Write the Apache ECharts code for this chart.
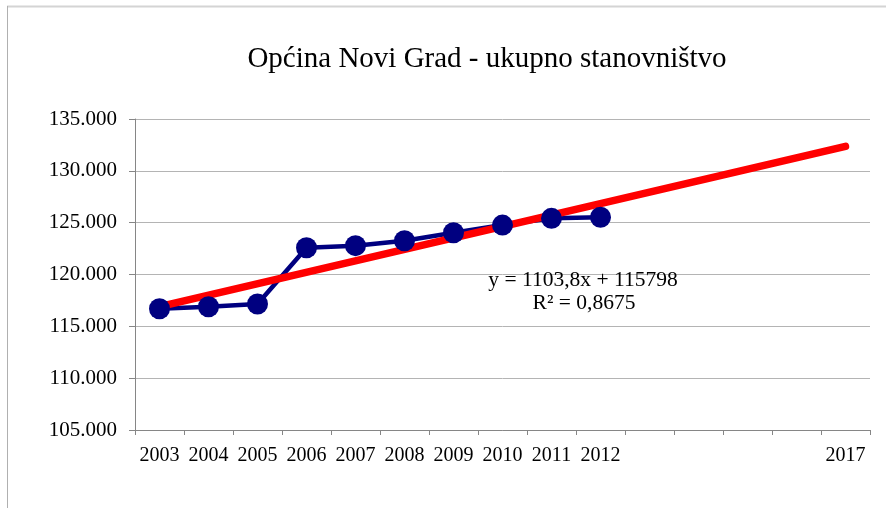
<!DOCTYPE html>
<html>
<head>
<meta charset="utf-8">
<script src="https://cdn.jsdelivr.net/npm/echarts@6/dist/echarts.min.js"></script>
<style>
  html, body { margin: 0; padding: 0; background: #fff; }
  #chart { width: 886px; height: 508px; }
</style>
</head>
<body>
<div id="chart"></div>
<script>
const years = ['2003', '2004', '2005', '2006', '2007', '2008', '2009', '2010', '2011', '2012', '2013', '2014', '2015', '2016', '2017']
const yearLabels = ['2003', '2004', '2005', '2006', '2007', '2008', '2009', '2010', '2011', '2012', '', '', '', '', '2017']
const population = [116700, 116890, 117150, 122580, 122780, 123260, 124030, 124770, 125420, 125520]
// linear trend, read at both ends of the line
const trend = [116902, null, null, null, null, null, null, null, null, null, null, null, null, null, 132355]

const serif = 'Liberation Serif'
const el = echarts.init(document.getElementById('chart'))
el.setOption({
  animation: false,
  backgroundColor: '#fff',
  grid: {left: 135, right: 16, top: 119, bottom: 78},
  xAxis: {
    type: 'category',
    data: years,
    boundaryGap: true,
    axisLine: {lineStyle: {color: '#868686', width: 1}},
    axisTick: {show: true, interval: 0, length: 5, lineStyle: {color: '#868686'}},
    axisLabel: {
      interval: 0,
      margin: 16,
      color: '#000',
      fontSize: 20,
      fontFamily: serif,
      formatter: (v, i) => yearLabels[i]
    },
    splitLine: {show: false}
  },
  yAxis: {
    type: 'value',
    min: 105000,
    max: 135000,
    interval: 5000,
    axisLine: {show: true, lineStyle: {color: '#868686', width: 1}},
    axisTick: {show: true, length: 6, lineStyle: {color: '#868686'}},
    axisLabel: {
      margin: 18,
      color: '#000',
      fontSize: 21,
      fontFamily: serif,
      formatter: v => (v / 1000).toFixed(3)
    },
    splitLine: {lineStyle: {color: '#b4b4b4', width: 1}}
  },
  graphic: [
    {type: 'line', shape: {x1: 7, y1: 6.5, x2: 886, y2: 6.5}, style: {stroke: '#d4d4d4', lineWidth: 2}},
    {type: 'line', shape: {x1: 7.5, y1: 6, x2: 7.5, y2: 508}, style: {stroke: '#b0b0b0', lineWidth: 1}},
    {
      type: 'text', x: 487, y: 59,
      style: {text: 'Općina Novi Grad - ukupno stanovništvo', font: '29px "Liberation Serif"', fill: '#000', textAlign: 'center', textVerticalAlign: 'middle'}
    },
    {
      type: 'text', x: 583, y: 280, z: 10,
      style: {text: 'y = 1103,8x + 115798', font: '21.5px "Liberation Serif"', fill: '#000', textAlign: 'center', textVerticalAlign: 'middle'}
    },
    {
      type: 'text', x: 584, y: 303, z: 10,
      style: {text: 'R² = 0,8675', font: '21.5px "Liberation Serif"', fill: '#000', textAlign: 'center', textVerticalAlign: 'middle'}
    }
  ],
  series: [
    {
      name: 'stanovništvo',
      type: 'line',
      data: population,
      symbol: 'circle',
      symbolSize: 21,
      itemStyle: {color: '#000080'},
      lineStyle: {color: '#000080', width: 4.5}
    },
    {
      name: 'trend',
      type: 'line',
      data: trend,
      connectNulls: true,
      showSymbol: false,
      symbol: 'none',
      lineStyle: {color: '#ff0000', width: 7.5, cap: 'round'}
    }
  ]
})
</script>
</body>
</html>
